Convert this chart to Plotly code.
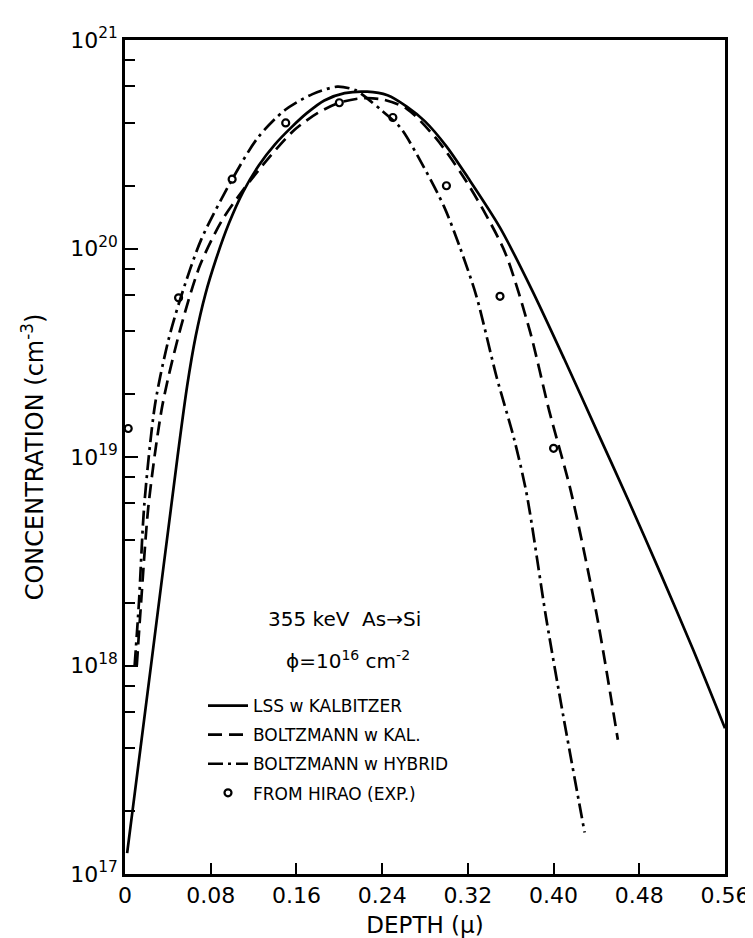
import plotly.graph_objects as go

# LSS w KALBITZER (solid)
lss_x = [0.002, 0.025, 0.049, 0.058, 0.066, 0.075, 0.085, 0.097, 0.110, 0.125, 0.140, 0.155, 0.170, 0.186, 0.205, 0.226, 0.245, 0.263, 0.280, 0.300, 0.320, 0.350, 0.380, 0.410, 0.440, 0.470, 0.500, 0.530, 0.560]
lss_y = [1.26e17, 1.07e18, 1.0e19, 2.19e19, 3.8e19, 6.03e19, 8.9e19, 1.32e20, 1.86e20, 2.51e20, 3.16e20, 3.8e20, 4.47e20, 5.13e20, 5.56e20, 5.65e20, 5.43e20, 4.79e20, 4.07e20, 3.09e20, 2.19e20, 1.26e20, 6.3e19, 2.95e19, 1.35e19, 6.17e18, 2.75e18, 1.2e18, 5.0e17]

# BOLTZMANN w KAL. (dashed)
bk_x = [0.011, 0.015, 0.022, 0.035, 0.052, 0.070, 0.090, 0.110, 0.135, 0.158, 0.180, 0.200, 0.220, 0.240, 0.263, 0.290, 0.315, 0.335, 0.355, 0.378, 0.396, 0.416, 0.440, 0.460]
bk_y = [1.0e18, 2.0e18, 5.9e18, 1.78e19, 4.17e19, 8.3e19, 1.35e20, 1.9e20, 2.75e20, 3.7e20, 4.47e20, 5.0e20, 5.25e20, 5.19e20, 4.68e20, 3.39e20, 2.24e20, 1.51e20, 9.5e19, 4.0e19, 1.66e19, 6.9e18, 1.78e18, 4.4e17]

# BOLTZMANN w HYBRID (dash-dot)
bh_x = [0.009, 0.013, 0.018, 0.028, 0.040, 0.051, 0.071, 0.099, 0.124, 0.149, 0.175, 0.198, 0.215, 0.226, 0.240, 0.257, 0.279, 0.298, 0.313, 0.328, 0.347, 0.363, 0.375, 0.393, 0.409, 0.429]
bh_y = [1.0e18, 2.0e18, 5.9e18, 1.78e19, 3.55e19, 5.6e19, 1.1e20, 2.1e20, 3.4e20, 4.6e20, 5.5e20, 5.97e20, 5.75e20, 5.25e20, 4.57e20, 3.8e20, 2.45e20, 1.58e20, 1.0e20, 5.9e19, 2.4e19, 1.23e19, 6.6e18, 1.7e18, 5.75e17, 1.58e17]

# FROM HIRAO (EXP.) circles
exp_x = [0.003, 0.05, 0.10, 0.15, 0.20, 0.25, 0.30, 0.35, 0.40]
exp_y = [1.37e19, 5.8e19, 2.15e20, 4.0e20, 5.0e20, 4.25e20, 2.0e20, 5.9e19, 1.1e19]

x_ticks = [0, 0.08, 0.16, 0.24, 0.32, 0.40, 0.48, 0.56]
x_tick_text = ["0", "0.08", "0.16", "0.24", "0.32", "0.40", "0.48", "0.56"]
y_ticks = [1e17, 1e18, 1e19, 1e20, 1e21]
y_tick_text = ["10<sup>17</sup>", "10<sup>18</sup>", "10<sup>19</sup>", "10<sup>20</sup>", "10<sup>21</sup>"]
y_minor = [2e17, 4e17, 6e17, 8e17, 2e18, 4e18, 6e18, 8e18,
           2e19, 4e19, 6e19, 8e19, 2e20, 4e20, 6e20, 8e20]

FONT = "DejaVu Sans"
LW = 2.7

fig = go.Figure()
fig.add_trace(go.Scatter(x=lss_x, y=lss_y, mode="lines", name="LSS w KALBITZER",
                         line=dict(color="black", width=LW, shape="spline", smoothing=0.8),
                         legendgroup="a"))
fig.add_trace(go.Scatter(x=bk_x, y=bk_y, mode="lines", name="BOLTZMANN w KAL.",
                         line=dict(color="black", width=LW, dash="14px,7px", shape="spline", smoothing=0.8),
                         legendgroup="b"))
fig.add_trace(go.Scatter(x=bh_x, y=bh_y, mode="lines", name="BOLTZMANN w HYBRID",
                         line=dict(color="black", width=LW, dash="15px,5px,3px,5px", shape="spline", smoothing=0.8),
                         legendgroup="c"))
fig.add_trace(go.Scatter(x=exp_x, y=exp_y, mode="markers", name="FROM HIRAO (EXP.)",
                         marker=dict(symbol="circle-open", size=7, color="black", line=dict(width=2.2)),
                         legendgroup="d"))

fig.update_layout(
    width=753, height=938,
    margin=dict(l=117, r=34, t=32, b=72),
    paper_bgcolor="white", plot_bgcolor="white",
    font=dict(family=FONT, color="black"),
    showlegend=True,
    legend=dict(x=0.13, y=0.223, xanchor="left", yanchor="top",
                bgcolor="rgba(0,0,0,0)", font=dict(size=17, family=FONT),
                tracegroupgap=4, itemwidth=40),
    annotations=[
        dict(x=0.365, y=0.289, xref="paper", yref="paper", showarrow=False,
             text="355 keV  As→Si", font=dict(size=20, family=FONT)),
        dict(x=0.372, y=0.239, xref="paper", yref="paper", showarrow=False,
             text="ϕ=10<sup>16</sup> cm<sup>-2</sup>", font=dict(size=20, family=FONT)),
    ],
)

fig.update_xaxes(
    range=[0, 0.56], tickvals=x_ticks, ticktext=x_tick_text,
    ticks="inside", ticklen=11, tickwidth=2, tickcolor="black",
    showline=True, linewidth=2.7, linecolor="black", mirror=True,
    showgrid=False, zeroline=False,
    tickfont=dict(size=22, family=FONT),
    title=dict(text="DEPTH (μ)", font=dict(size=23, family=FONT), standoff=10),
)
fig.update_yaxes(
    type="log", range=[17, 21], tickvals=y_ticks, ticktext=y_tick_text,
    ticks="inside", ticklen=13, tickwidth=2, tickcolor="black",
    minor=dict(tickvals=y_minor, ticks="inside", ticklen=10, tickwidth=2, tickcolor="black", showgrid=False),
    showline=True, linewidth=2.7, linecolor="black", mirror=True,
    showgrid=False, zeroline=False,
    tickfont=dict(size=22, family=FONT),
    title=dict(text="CONCENTRATION (cm<sup>-3</sup>)", font=dict(size=24, family=FONT), standoff=20),
)

fig.write_html("out.html")
